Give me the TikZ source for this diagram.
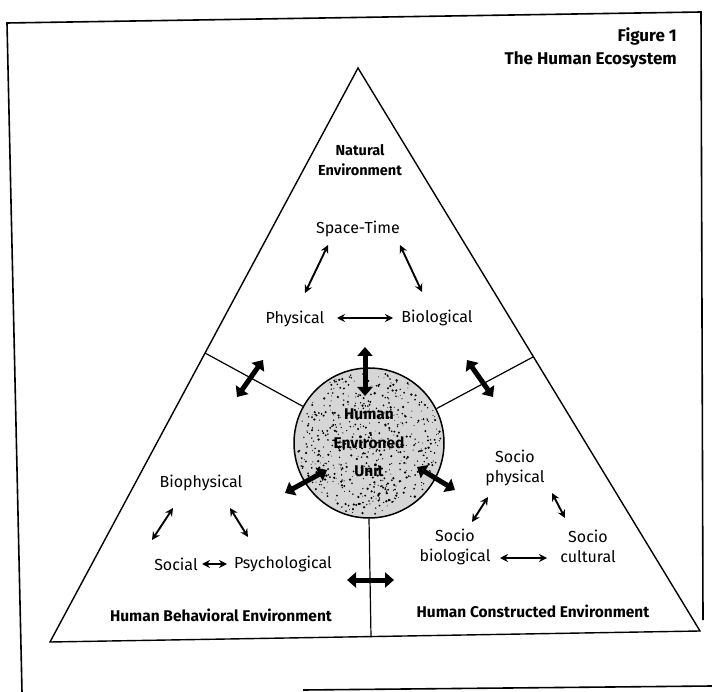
\documentclass[tikz,border=0pt]{standalone}
\usepackage{fontspec}
\setmainfont{Fira Sans}
\usetikzlibrary{arrows.meta}
\begin{document}
\begin{tikzpicture}[x=1pt,y=-1pt,
  lbl/.style={inner sep=1pt,font=\fontsize{16}{20}\selectfont},
  lbltwo/.style={inner sep=1pt,align=center,font=\fontsize{16}{20}\selectfont},
  ttl/.style={inner sep=1pt,align=center,font=\fontsize{14.5}{20}\selectfont\bfseries},
  bttl/.style={inner sep=1pt,align=center,font=\fontsize{15.5}{20}\selectfont\bfseries},
  heading/.style={inner sep=1pt,anchor=east,font=\fontsize{17}{20}\selectfont\bfseries},
  thinarr/.style={line width=1.9pt,{Stealth[length=8pt,width=8pt]}-{Stealth[length=8pt,width=8pt]}},
  thickarr/.style={line width=5pt,{Triangle[length=9pt,width=15pt]}-{Triangle[length=9pt,width=15pt]}},
  frameline/.style={line width=1.6pt},
  edge/.style={line width=1.4pt},
  divider/.style={line width=1.2pt}]
\useasboundingbox (0,0) rectangle (712,692);
% frame
\draw[frameline] (22,692) -- (7,23) -- (701,12) -- (703,620);
\draw[frameline] (303,690) -- (712,686);
% headings
\node[heading] (fig) at (678,36) {Figure 1};
\node[heading] (eco) at (678,60) {The Human Ecosystem};
% triangle
\coordinate (A) at (358,68);
\coordinate (B) at (50,642);
\coordinate (C) at (700,631);
\draw[edge,line join=miter] (A) -- (B) -- (C) -- cycle;
% central unit
\node[circle,draw,line width=1.5pt,fill=gray!32,minimum size=150pt,inner sep=0pt] (heu) at (369,443) {};
\pgfmathsetseed{11}
\foreach \i in {1,...,600}{
  \pgfmathsetmacro\rr{72*sqrt(rnd)}
  \pgfmathsetmacro\aa{360*rnd}
  \pgfmathsetmacro\ss{0.4+0.9*rnd}
  \fill (heu.center) ++(\aa:\rr) circle (\ss);
}
\node[align=center,inner sep=0pt,font=\fontsize{15.5}{28.5}\selectfont\bfseries] (heutext) at (369,443) {Human\\Environed\\Unit};
% dividers
\coordinate (dl) at (205,353);
\coordinate (dr) at (533,357);
\coordinate (db) at (371,637);
\draw[divider] (dl) -- (heu.151);
\draw[divider] (dr) -- (heu.27.5);
\draw[divider] (heu.south) -- (db);
% region titles
\node[ttl] (nat) at (360,160) {Natural\\Environment};
\node[bttl] (hbe) at (221,615) {Human Behavioral Environment};
\node[bttl] (hce) at (533,611) {Human Constructed Environment};
% natural environment
\node[lbl] (st) at (358,229) {Space-Time};
\node[lbl] (phys) at (295,319) {Physical};
\node[lbl] (biol) at (437,318) {Biological};
% behavioral environment
\node[lbl] (bioph) at (201,483) {Biophysical};
\node[lbl] (soc) at (176,564) {Social};
\node[lbl] (psy) at (283,564) {Psychological};
% constructed environment
\node[lbltwo] (sphy) at (515,468) {Socio\\physical};
\node[lbltwo] (sbio) at (455,547) {Socio\\biological};
\node[lbltwo] (scul) at (588,546) {Socio\\cultural};
% thin arrow end points
\coordinate (a1s) at (337,318); \coordinate (a1e) at (393,318);
\coordinate (a2s) at (328,245); \coordinate (a2e) at (305,293);
\coordinate (a3s) at (400,245); \coordinate (a3e) at (422,292);
\coordinate (b1s) at (202,564); \coordinate (b1e) at (227,564);
\coordinate (b2s) at (173,508); \coordinate (b2e) at (152,540);
\coordinate (b3s) at (230,508); \coordinate (b3e) at (248,537);
\coordinate (c1s) at (500,558); \coordinate (c1e) at (547,558);
\coordinate (c2s) at (488,497); \coordinate (c2e) at (472,522);
\coordinate (c3s) at (552,493); \coordinate (c3e) at (565,518);
\draw[thinarr] (a1s) -- (a1e);
\draw[thinarr] (a2s) -- (a2e);
\draw[thinarr] (a3s) -- (a3e);
\draw[thinarr] (b1s) -- (b1e);
\draw[thinarr] (b2s) -- (b2e);
\draw[thinarr] (b3s) -- (b3e);
\draw[thinarr] (c1s) -- (c1e);
\draw[thinarr] (c2s) -- (c2e);
\draw[thinarr] (c3s) -- (c3e);
% thick arrow end points
\coordinate (t1s) at (365,347); \coordinate (t1e) at (365,396);
\coordinate (t2s) at (237,397); \coordinate (t2e) at (263,360);
\coordinate (t3s) at (467,360); \coordinate (t3e) at (493,397);
\coordinate (t4s) at (285,493); \coordinate (t4e) at (327,470);
\coordinate (t5s) at (417,467); \coordinate (t5e) at (455,490);
\coordinate (t6s) at (347,580); \coordinate (t6e) at (394,580);
\draw[thickarr] (t1s) -- (t1e);
\draw[thickarr] (t2s) -- (t2e);
\draw[thickarr] (t3s) -- (t3e);
\draw[thickarr] (t4s) -- (t4e);
\draw[thickarr] (t5s) -- (t5e);
\draw[thickarr] (t6s) -- (t6e);
\end{tikzpicture}
\end{document}
